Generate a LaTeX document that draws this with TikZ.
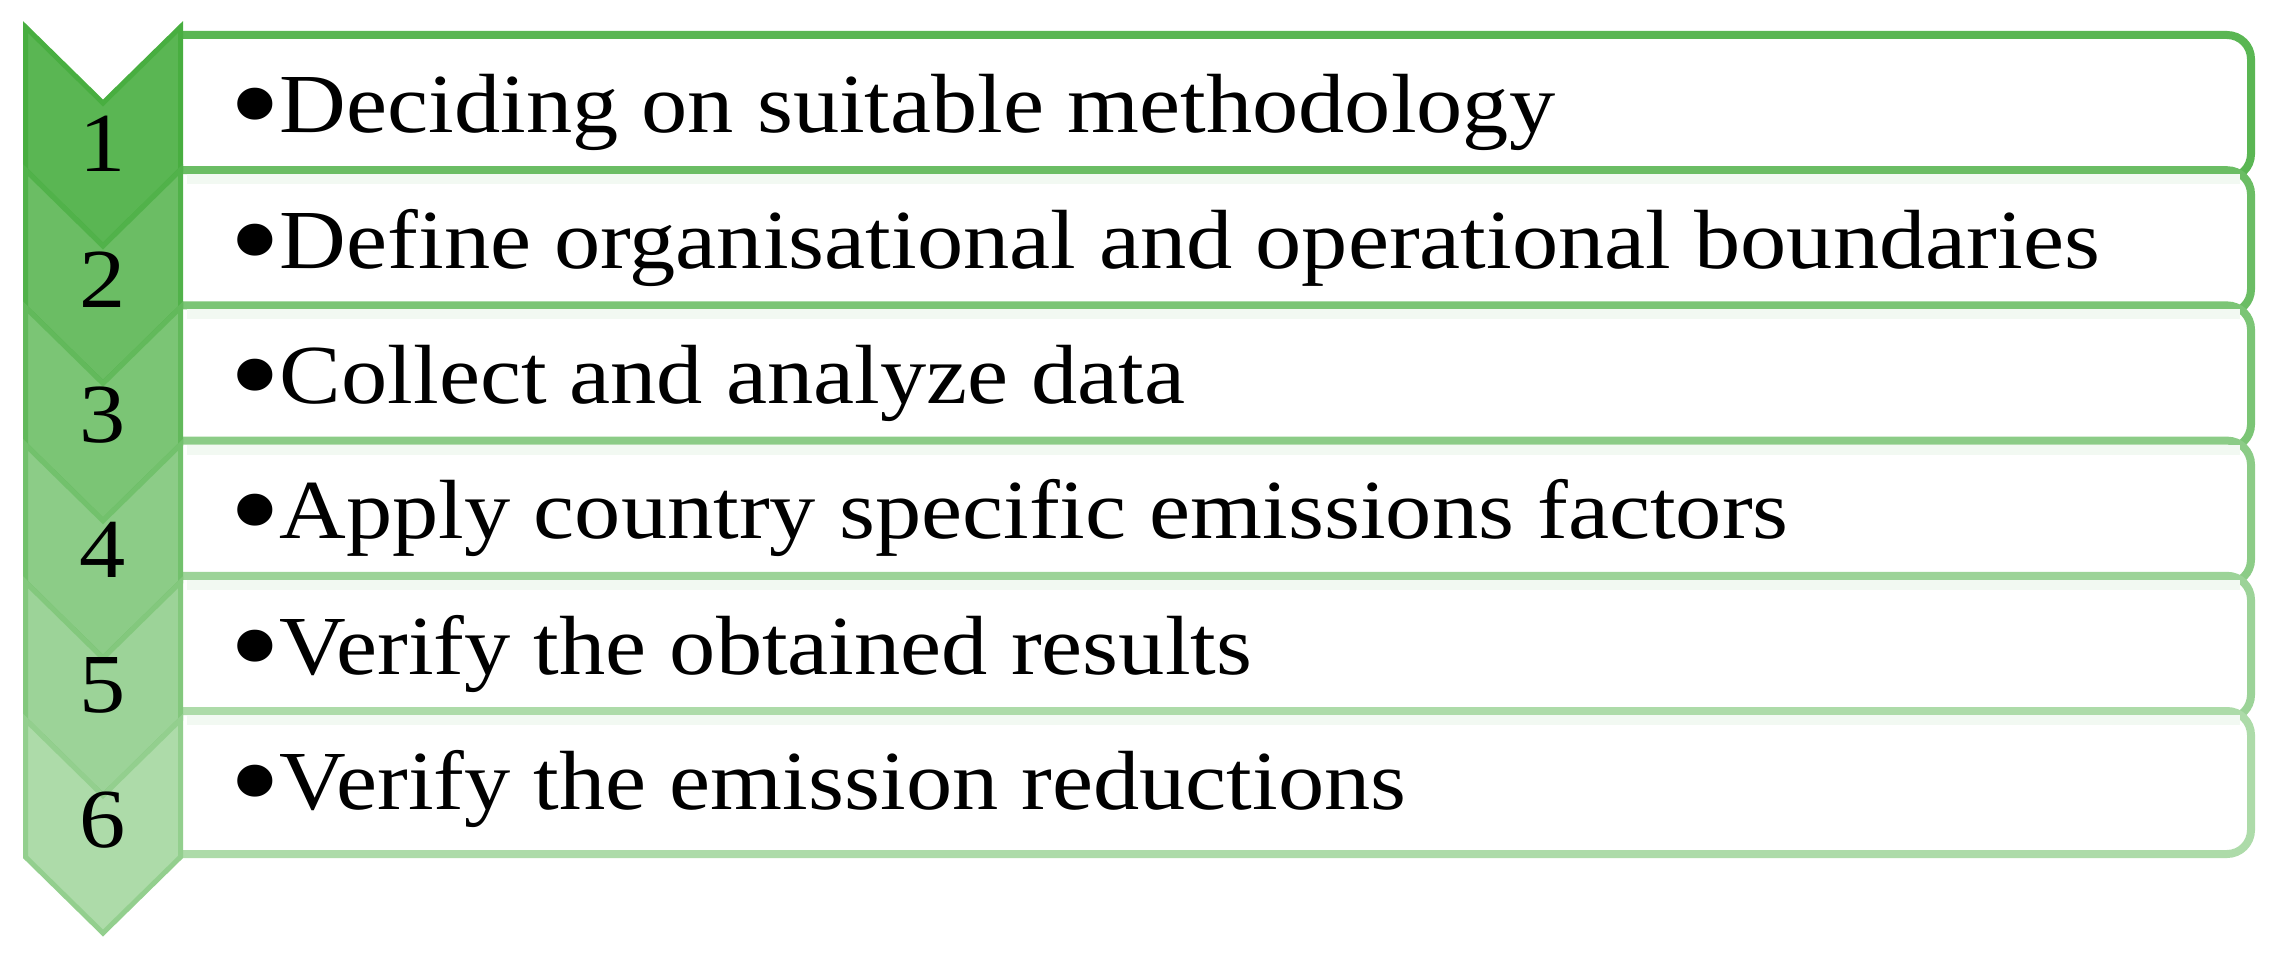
\documentclass[tikz,border=0pt]{standalone}
\usepackage{fontspec}
\setmainfont{Liberation Serif}[FakeStretch=1.1]
\definecolor{G}{RGB}{72,174,64}
\newcommand{\bigbul}{{\fontsize{134}{134}\selectfont\raisebox{-16pt}{\textbullet}}\hspace{-1pt}}
\tikzset{
  boxline/.style={line width=8pt},
  chevline/.style={line width=5pt, line join=miter},
  itemtext/.style={anchor=base west, inner sep=0pt, font=\fontsize{84}{100}\selectfont},
  numtext/.style={anchor=base, inner sep=0pt, font=\fontsize{84}{100}\selectfont},
}
\begin{document}
\begin{tikzpicture}[x=1pt,y=-1pt]
\useasboundingbox (0,0) rectangle (2280,960);
% boxes
\foreach \k in {1,...,6}{
  \pgfmathtruncatemacro\r{90-9*(\k-1)}
  \pgfmathsetmacro\t{35+135.2*(\k-1)}
  \pgfmathsetmacro\b{\t+143}
  \colorlet{bc}{G!\r!white}
  \begin{scope}
    \clip (183,0) rectangle (2280,960);
    \filldraw[boxline, draw=bc, fill=white, rounded corners=24pt] (140,\t) rectangle (2251,\b);
    \ifnum\k>1
      \fill[G!7!white] (187,\t+4) rectangle (2240,\t+14);
    \fi
  \end{scope}
}
% chevrons
\foreach \k in {1,...,6}{
  \pgfmathtruncatemacro\r{90-9*(\k-1)}
  \pgfmathtruncatemacro\s{min(100,\r+14)}
  \pgfmathsetmacro\ya{\k==1 ? 27 : 170+137.4*(\k-2)}
  \pgfmathsetmacro\yb{170+137.4*(\k-1)}
  \colorlet{cf}{G!\r!white}
  \colorlet{cs}{G!\s!white}
  \filldraw[chevline, fill=cf, draw=cs]
    (25.5,\ya) -- (103,\ya+76) -- (180.5,\ya) -- (180.5,\yb) -- (103,\yb+76) -- (25.5,\yb) -- cycle;
}
% numbers
\foreach \k in {1,...,6}{
  \pgfmathsetmacro\nb{172+135*(\k-1)}
  \node[numtext] (n\k) at (103,\nb) {\k};
}
% texts
\foreach \k/\txt in {1/{Deciding on suitable methodology},
                     2/{Define organisational and operational boundaries},
                     3/{Collect and analyze data},
                     4/{Apply country specific emissions factors},
                     5/{Verify the obtained results},
                     6/{Verify the emission reductions}}{
  \pgfmathsetmacro\tb{133+135.3*(\k-1)}
  \node[itemtext] (t\k) at (229,\tb) {\bigbul\txt};
}
\end{tikzpicture}
\end{document}
